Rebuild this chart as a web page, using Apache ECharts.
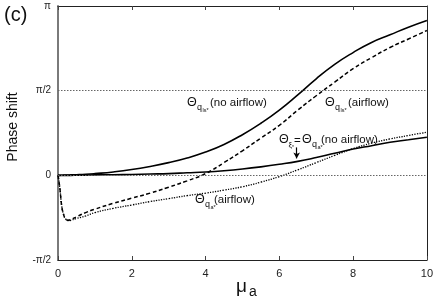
<!DOCTYPE html>
<html><head><meta charset="utf-8">
<script src="https://cdn.jsdelivr.net/npm/echarts@6/dist/echarts.min.js"></script>
<style>html,body{margin:0;padding:0;background:#fff}#c{width:436px;height:300px}</style>
</head><body><div id="c"></div>
<script>
// x values (mu_a)
var xs = [0, 0.05, 0.1, 0.15, 0.2, 0.27, 0.35, 0.5, 0.75, 1, 1.5, 2, 2.5, 3, 3.5, 4, 4.5, 5, 5.5, 6, 6.5, 7, 7.5, 8, 8.5, 9, 9.5, 10];
// phase shift in units of pi/2
var qlsNoAirflow = [0, 0, 0.001, 0.002, 0.003, 0.004, 0.005, 0.007, 0.012, 0.02, 0.04, 0.068, 0.105, 0.15, 0.205, 0.275, 0.365, 0.48, 0.615, 0.77, 0.95, 1.14, 1.31, 1.45, 1.57, 1.66, 1.75, 1.83];
var qlsAirflow   = [0, -0.15, -0.36, -0.46, -0.51, -0.53, -0.52, -0.49, -0.44, -0.40, -0.33, -0.27, -0.21, -0.14, -0.065, 0.02, 0.15, 0.29, 0.44, 0.59, 0.77, 0.94, 1.1, 1.26, 1.39, 1.51, 1.61, 1.71];
var qaAirflow    = [0, -0.15, -0.36, -0.46, -0.51, -0.535, -0.53, -0.51, -0.48, -0.44, -0.39, -0.35, -0.31, -0.275, -0.24, -0.21, -0.175, -0.135, -0.08, -0.015, 0.065, 0.15, 0.235, 0.315, 0.38, 0.43, 0.47, 0.51];
var qaNoAirflow  = [0, 0, 0, 0, 0, 0, 0, 0.001, 0.003, 0.005, 0.007, 0.01, 0.015, 0.02, 0.03, 0.04, 0.055, 0.075, 0.1, 0.13, 0.165, 0.21, 0.26, 0.31, 0.35, 0.39, 0.42, 0.45];
var xTicks = [0, 2, 4, 6, 8, 10];
var yTickLabels = {'-1': '-π/2', '0': '0', '1': 'π/2', '2': 'π'};

function pairs(ys){ return xs.map(function(x,i){ return [x, ys[i]]; }); }
var FF = 'Liberation Sans, Arial, sans-serif';
var chart = echarts.init(document.getElementById('c'), null, {renderer:'canvas'});

function lineSeries(name, ys, type, width, extra){
  var s = {
    name: name, type: 'line', data: pairs(ys), showSymbol: false, symbol: 'none',
    smooth: 0.5,
    lineStyle: {color: '#000', width: width, type: type}, z: 3, animation: false
  };
  for (var k in extra) s[k] = extra[k];
  return s;
}

function txt(x, y, t, size, extra){
  var o = {type:'text', x:x, y:y, style:{text:t, fontSize:size, fontFamily:FF, fill:'#111', textVerticalAlign:'middle'}, z:10};
  if (extra) for (var k in extra) o.style[k] = extra[k];
  return o;
}

var option = {
  animation: false,
  grid: {left: 58, right: 9, top: 6, bottom: 40},
  xAxis: [{
    type: 'value', min: 0, max: 10, interval: 2,
    axisLine: {onZero: false, lineStyle: {color: '#222', width: 1}},
    axisTick: {inside: true, length: 4, lineStyle: {color: '#444'}},
    axisLabel: {color: '#222', fontSize: 11, fontFamily: FF, margin: 8,
      formatter: function(v){ return xTicks.indexOf(v) >= 0 ? String(v) : ''; }},
    splitLine: {show: false}
  }, {
    type: 'value', position: 'top', min: 0, max: 10, interval: 2,
    axisLine: {onZero: false, lineStyle: {color: '#222', width: 1}},
    axisTick: {inside: true, length: 4, lineStyle: {color: '#444'}},
    axisLabel: {show: false}, splitLine: {show: false}
  }],
  yAxis: [{
    type: 'value', min: -1, max: 2, interval: 1,
    axisLine: {show: true, onZero: false, lineStyle: {color: '#7a7a7a', width: 2}},
    axisTick: {show: false},
    axisLabel: {color: '#222', fontSize: 10, fontFamily: FF, margin: 7,
      formatter: function(v){ return yTickLabels[String(v)] || ''; }},
    splitLine: {show: false}
  }, {
    type: 'value', position: 'right', min: -1, max: 2, interval: 1,
    axisLine: {show: true, onZero: false, lineStyle: {color: '#222', width: 1}},
    axisTick: {show: false}, axisLabel: {show: false}, splitLine: {show: false}
  }],
  series: [
    lineSeries('qls no airflow', qlsNoAirflow, 'solid', 1.6, {
      markLine: {silent: true, symbol: 'none', label: {show: false},
        lineStyle: {color: '#666', type: [1.5, 1.5], width: 1},
        data: [{yAxis: 1}, {yAxis: 0}]}
    }),
    lineSeries('qls airflow', qlsAirflow, [4, 2.5], 1.5),
    lineSeries('qa airflow', qaAirflow, [1.3, 1.3], 1.3),
    lineSeries('qa no airflow', qaNoAirflow, 'solid', 1.6, {
      markLine: {silent: true, label: {show: false}, symbol: ['none', 'arrow'], symbolSize: [5, 6],
        lineStyle: {color: '#000', type: 'solid', width: 1.2},
        data: [[{coord: [6.47, 0.33]}, {coord: [6.47, 0.2]}]]}
    })
  ],
  graphic: [
    txt(4, 15, '(c)', 20),
    {type:'text', x: 13, y: 127, rotation: Math.PI/2, style:{text:'Phase shift', fontSize:14, fontFamily:FF, fill:'#111', textAlign:'center', textVerticalAlign:'middle'}},
    txt(236, 287, 'μ', 19),
    txt(249, 292, 'a', 14),
    // Θqls* (no airflow)
    txt(187, 103, 'Θ', 12.5), txt(197, 107.5, 'q', 9), txt(202.5, 110, 'ls*', 5.5), txt(210, 103, '(no airflow)', 11.5),
    // Θqls* (airflow)
    txt(325, 103, 'Θ', 12.5), txt(335, 107.5, 'q', 9), txt(340.5, 110, 'ls*', 5.5), txt(348, 103, '(airflow)', 11.5),
    // Θξ* = Θqa* (no airflow)
    txt(279, 140, 'Θ', 12.5), txt(288.5, 145, 'ξ', 8), txt(292, 148, '*', 5), txt(294, 141, '=', 11.5),
    txt(302, 140, 'Θ', 12.5), txt(312, 144.5, 'q', 9), txt(317.5, 147, 'a*', 5.5), txt(321, 140, '(no airflow)', 11.5),
    // Θqa* (airflow)
    txt(195, 200, 'Θ', 12.5), txt(205, 204.5, 'q', 9), txt(210.5, 207, 'a*', 5.5), txt(214, 200, '(airflow)', 11.5)
  ]
};
chart.setOption(option);
</script></body></html>
